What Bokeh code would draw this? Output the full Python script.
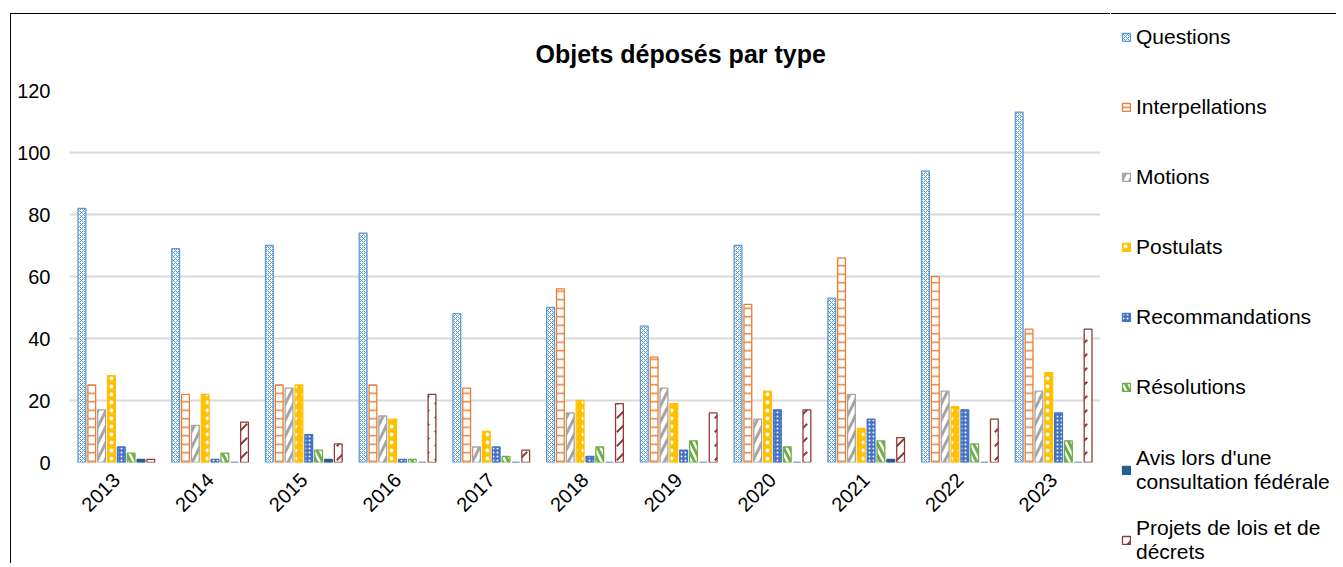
import math
from bokeh.plotting import figure
from bokeh.models import (ColumnDataSource, FactorRange, Range1d, FixedTicker,
                          Legend, LegendItem)
from bokeh.transform import dodge
from bokeh.embed import file_html
from bokeh.resources import INLINE

years = ["2013", "2014", "2015", "2016", "2017", "2018", "2019", "2020", "2021", "2022", "2023"]
questions = [82, 69, 70, 74, 48, 50, 44, 70, 53, 94, 113]
interpellations = [25, 22, 25, 25, 24, 56, 34, 51, 66, 60, 43]
motions = [17, 12, 24, 15, 5, 16, 24, 14, 22, 23, 23]
postulats = [28, 22, 25, 14, 10, 20, 19, 23, 11, 18, 29]
recommandations = [5, 1, 9, 1, 5, 2, 4, 17, 14, 17, 16]
resolutions = [3, 3, 4, 1, 2, 5, 7, 5, 7, 6, 7]
avis = [1, 0, 1, 0, 0, 0, 0, 0, 1, 0, 0]
projets = [1, 13, 6, 22, 4, 19, 16, 17, 8, 14, 43]

series_labels = ["Questions", "Interpellations", "Motions", "Postulats",
                 "Recommandations", "Résolutions",
                 "Avis lors d'une\nconsultation fédérale",
                 "Projets de lois et de\ndécrets"]
y_ticks = [0, 20, 40, 60, 80, 100, 120]

FONT = "Liberation Sans"
H = 550

source = ColumnDataSource(data=dict(
    year=years, questions=questions, interpellations=interpellations,
    motions=motions, postulats=postulats, recommandations=recommandations,
    resolutions=resolutions, avis=avis, projets=projets))

p = figure(x_range=FactorRange(*years), y_range=Range1d(0, 120),
           width=1100, height=H, output_backend="svg", toolbar_location=None,
           min_border_left=58, min_border_right=11, min_border_top=75,
           min_border_bottom=102)
p.styles = {"border-left": "1px solid black", "border-top": "1px solid black",
            "margin-left": "10px", "margin-top": "13px"}
p.outline_line_color = None

p.title.text = "Objets déposés par type"
p.title.text_font = FONT
p.title.text_font_size = "25px"
p.title.text_font_style = "bold"
p.title.text_color = "black"
p.title.align = "left"
p.title.offset = 466
p.title.standoff = 46

styles = [
    dict(col="questions", fill_color="white", line_color="#5B9BD5",
         hatch_pattern="x", hatch_color="#5B9BD5", hatch_scale=4, hatch_weight=1),
    dict(col="interpellations", fill_color="white", line_color="#ED7D31",
         hatch_pattern="horizontal_line", hatch_color="#ED7D31", hatch_scale=8.5, hatch_weight=1.5),
    dict(col="motions", fill_color="white", line_color="#A5A5A5",
         hatch_pattern="right_diagonal_line", hatch_color="#A5A5A5", hatch_scale=16, hatch_weight=3),
    dict(col="postulats", fill_color="#FFC000", line_color="#FFC000",
         hatch_pattern="dot", hatch_color="white", hatch_scale=8, hatch_weight=2),
    dict(col="recommandations", fill_color="#4472C4", line_color="#4472C4",
         hatch_pattern="dot", hatch_color="white", hatch_scale=4, hatch_weight=2),
    dict(col="resolutions", fill_color="white", line_color="#70AD47",
         hatch_pattern="left_diagonal_line", hatch_color="#70AD47", hatch_scale=12, hatch_weight=3),
    dict(col="avis", fill_color="#255E91", line_color="#255E91",
         hatch_pattern=None, hatch_color="#255E91", hatch_scale=4, hatch_weight=1),
    dict(col="projets", fill_color="white", line_color="#8E3B3B",
         hatch_pattern="right_diagonal_dash", hatch_color="#8E3B3B", hatch_scale=14, hatch_weight=2),
]


def bar_kw(st):
    kw = dict(fill_color=st["fill_color"], line_color=st["line_color"], line_width=1.3)
    if st["hatch_pattern"]:
        kw.update(hatch_pattern=st["hatch_pattern"], hatch_color=st["hatch_color"],
                  hatch_scale=st["hatch_scale"], hatch_weight=st["hatch_weight"])
    return kw


step = 0.105
bar_w = 0.083
for i, st in enumerate(styles):
    off = (i - 3.5) * step
    p.vbar(x=dodge("year", off, range=p.x_range), top=st["col"], width=bar_w,
           source=source, **bar_kw(st))

p.xgrid.grid_line_color = None
p.ygrid.grid_line_color = "#D9D9D9"
p.ygrid.grid_line_width = 2
p.yaxis.ticker = FixedTicker(ticks=y_ticks)

for ax in (p.xaxis, p.yaxis):
    ax.axis_line_color = None
    ax.major_tick_line_color = None
    ax.minor_tick_line_color = None
    ax.major_tick_out = 0
    ax.major_tick_in = 0
    ax.minor_tick_out = 0
    ax.major_label_text_font = FONT
    ax.major_label_text_font_size = "20px"
    ax.major_label_text_color = "black"

p.yaxis.major_label_standoff = 19
p.xaxis.major_label_orientation = math.pi / 4
p.xaxis.major_label_standoff = 14
p.x_range.range_padding = 0
p.x_range.group_padding = 0

# legend canvas, placed to the right of the chart
LEG_TOP = 14  # page y of the legend canvas top
leg = figure(width=225, height=H, x_range=Range1d(0, 1), y_range=Range1d(0, 1),
             output_backend="svg", toolbar_location=None,
             x_axis_location=None, y_axis_location=None,
             min_border=0, min_border_left=0, min_border_right=0,
             min_border_top=0, min_border_bottom=0)
leg.styles = {"position": "absolute", "left": "1111px", "top": "13px",
              "border-top": "1px solid black"}
leg.outline_line_color = None
leg.xgrid.grid_line_color = None
leg.ygrid.grid_line_color = None

swatch = ColumnDataSource(data=dict(x=[float("nan")], top=[float("nan")]))
legend_items = []
for st, lab in zip(styles, series_labels):
    r = leg.vbar(x="x", top="top", width=0.1, source=swatch, **bar_kw(st))
    legend_items.append(LegendItem(label=lab, renderers=[r]))

ITEM_H = 54
GAP = 16


def make_legend(its, first_center_y):
    n = len(its)
    h = n * ITEM_H + (n - 1) * GAP
    top = first_center_y - ITEM_H / 2
    bottom_from_frame = (LEG_TOP + H) - (top + h)
    lg = Legend(items=its, location=(10, bottom_from_frame), orientation="vertical",
                ncols=1, nrows=n)
    lg.label_text_font = FONT
    lg.label_text_font_size = "21px"
    lg.label_text_color = "black"
    lg.label_text_line_height = 1.25
    lg.label_height = ITEM_H
    lg.spacing = GAP
    lg.glyph_width = 10
    lg.glyph_height = 10
    lg.label_standoff = 5
    lg.padding = 0
    lg.margin = 0
    lg.border_line_color = None
    lg.background_fill_alpha = 0
    return lg


leg.add_layout(make_legend(legend_items[:6], 37))
leg.add_layout(make_legend(legend_items[6:], 470))

open("out.html", "w").write(file_html([p, leg], INLINE))
